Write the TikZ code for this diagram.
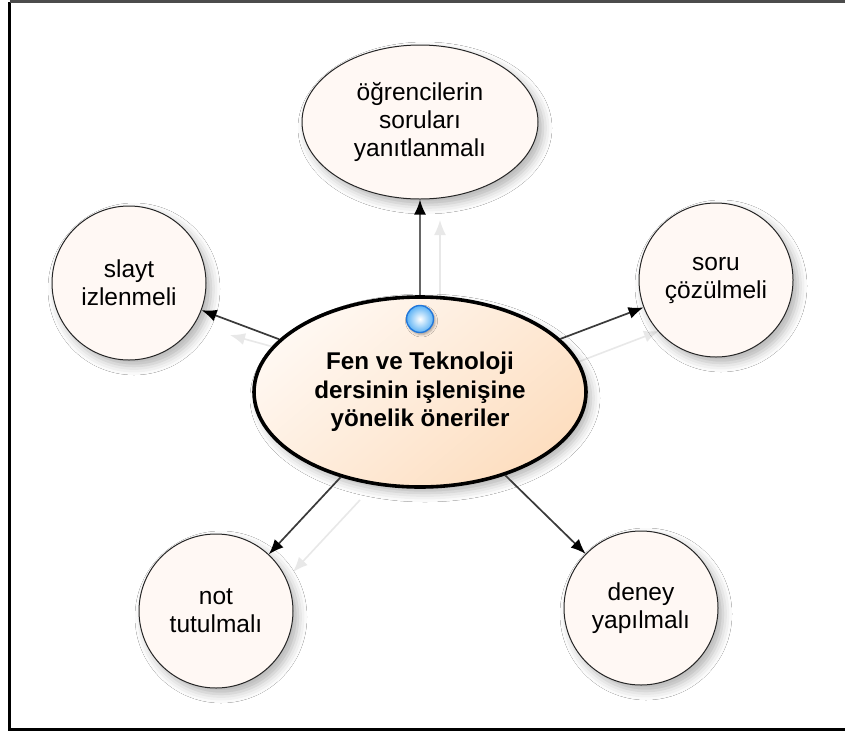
\documentclass[tikz,border=0pt]{standalone}
\usepackage{fontspec}
\setmainfont{Liberation Sans}
\usetikzlibrary{shapes.geometric,shadows.blur,arrows.meta}
\definecolor{ideafill}{HTML}{FFF8F4}
\definecolor{hubtop}{HTML}{FFF8F2}
\definecolor{hubbottom}{HTML}{FDDEC0}
\definecolor{linkgray}{HTML}{3A3A3A}
\definecolor{ghostgray}{HTML}{E8E8E8}
\definecolor{pinblue}{HTML}{2277DA}
\definecolor{pinmid}{HTML}{5BB2F5}
\begin{document}
\begin{tikzpicture}[x=1pt,y=-1pt,
  softshadow/.style={blur shadow={shadow xshift=5pt, shadow yshift=-6pt,
      shadow blur radius=9pt, shadow opacity=30}},
  idea/.style={circle, draw=black!85, line width=1pt, fill=ideafill,
      minimum size=154pt, inner sep=0pt, align=center,
      font=\fontsize{24.5}{28}\selectfont, softshadow},
  topidea/.style={ellipse, draw=black!85, line width=1pt, fill=ideafill,
      minimum width=236pt, minimum height=154pt, inner sep=0pt, align=center,
      font=\fontsize{24.5}{28}\selectfont, softshadow},
  hub/.style={ellipse, draw=black, line width=3.6pt,
      top color=hubtop, bottom color=hubbottom, shading angle=40,
      minimum width=332pt, minimum height=190pt, inner sep=0pt, align=center,
      font=\bfseries\fontsize{24.2}{28.5}\selectfont, softshadow},
  link/.style={draw=linkgray, line width=1.7pt,
      -{Latex[length=15pt,width=12pt,color=black]}},
  ghostlink/.style={draw=ghostgray, line width=1.6pt,
      -{Latex[length=15pt,width=12pt]}},
  pin/.style={circle, minimum size=27pt, inner sep=0pt, draw=pinblue,
      line width=1.4pt, inner color=white, outer color=pinmid,
      blur shadow={shadow xshift=1.5pt, shadow yshift=-2pt,
      shadow blur radius=2.5pt, shadow opacity=35}}
]
\useasboundingbox (0,0) rectangle (845,731);
\fill[white] (0,0) rectangle (845,731);

% outer frame
\draw[line width=3pt] (9.5,1.5) -- (9.5,729.5) -- (850,729.5);
\draw[line width=3pt, black!70] (9.5,1.5) -- (850,1.5);

% faint duplicate links left behind a drag
\coordinate (g1a) at (440,300); \coordinate (g1b) at (440,220);
\coordinate (g2a) at (292,352); \coordinate (g2b) at (230,335);
\coordinate (g3a) at (578,362); \coordinate (g3b) at (659,331);
\coordinate (g4a) at (360,500); \coordinate (g4b) at (293,572);
\draw[ghostlink] (g1a) -- (g1b);
\draw[ghostlink] (g2a) -- (g2b);
\draw[ghostlink] (g3a) -- (g3b);
\draw[ghostlink] (g4a) -- (g4b);

% ideas around the hub
\node[topidea] (t) at (420,122) {öğrencilerin\\soruları\\yanıtlanmalı};
\node[idea] (s) at (129,283) {slayt\\izlenmeli};
\node[idea] (r) at (716,280) {soru\\çözülmeli};
\node[idea] (n) at (216,611) {not\\tutulmalı};
\node[idea] (d) at (641,608) {deney\\yapılmalı};

% central topic
\node[hub] (c) at (420,392) {Fen ve Teknoloji\\dersinin işlenişine\\yönelik öneriler};

% links
\draw[link, draw=black!60, line width=2.2pt] (c) -- (t);
\draw[link] (c) -- (s);
\draw[link] (c) -- (r);
\draw[link] (c) -- (n);
\draw[link] (c) -- (d);

% handle on the hub
\node[pin] (p) at (420,319) {};
\end{tikzpicture}
\end{document}
